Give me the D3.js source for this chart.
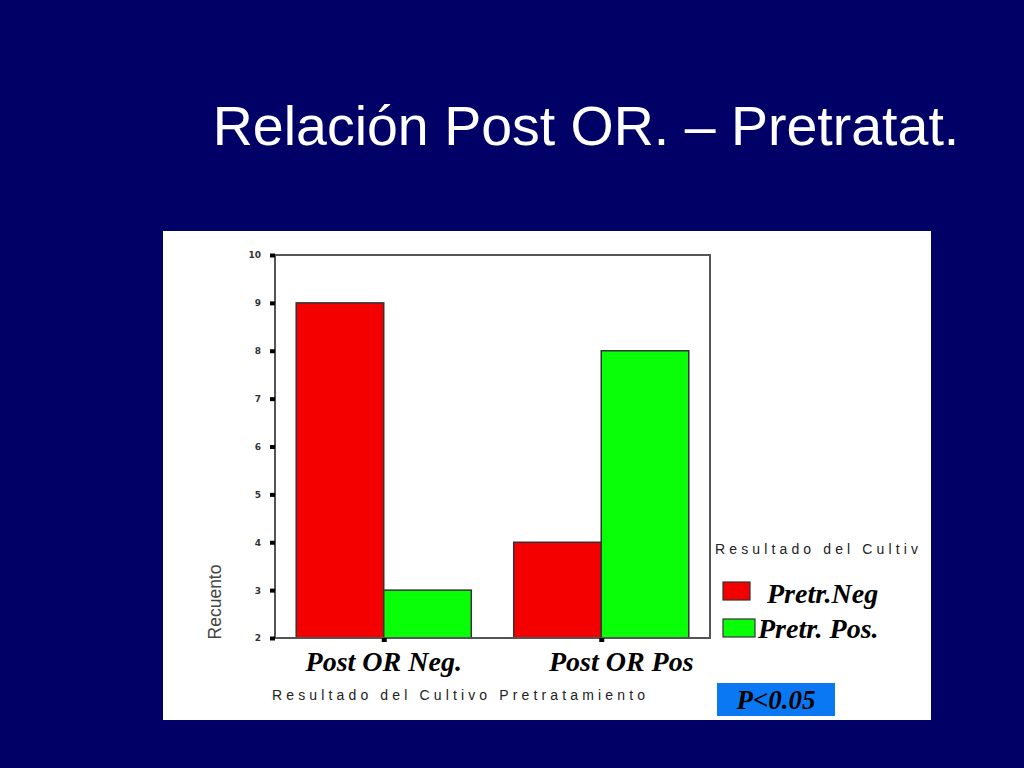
<!DOCTYPE html>
<html><head><meta charset="utf-8">
<script src="https://cdn.jsdelivr.net/npm/d3@7"></script>
<style>html,body{margin:0;padding:0;background:#000066;}svg{display:block;}</style>
</head><body>
<script>
const categories = ["Post OR Neg.", "Post OR Pos"];
const seriesNames = ["Pretr.Neg", "Pretr. Pos."];
const pretrNeg = [9, 4];
const pretrPos = [3, 8];
const yTicks = [2, 3, 4, 5, 6, 7, 8, 9, 10];
const colors = ["#F40000", "#08FF08"];

const W = 1024, H = 768;
const svg = d3.select("body").append("svg").attr("width", W).attr("height", H);
svg.append("rect").attr("width", W).attr("height", H).attr("fill", "#000066");

svg.append("text").attr("x", 586).attr("y", 145).attr("text-anchor", "middle")
  .attr("font-family", "Liberation Sans, Arial, sans-serif").attr("font-size", 55.5)
  .attr("fill", "#ffffff").text("Relación Post OR. – Pretratat.");

svg.append("rect").attr("x", 163).attr("y", 231).attr("width", 768).attr("height", 489).attr("fill", "#ffffff");

const pLeft = 275, pRight = 710, pTop = 255, pBottom = 638;
const x0 = d3.scaleBand().domain(categories).range([pLeft, pRight]).paddingInner(0.195).paddingOuter(0.0975);
const x1 = d3.scaleBand().domain(seriesNames).range([0, x0.bandwidth()]);
const y = d3.scaleLinear().domain([2, 10]).range([pBottom, pTop]);

const data = categories.map((c, i) => ({cat: c, vals: [pretrNeg[i], pretrPos[i]]}));

const g = svg.append("g");
g.selectAll("g.grp").data(data).join("g").attr("class", "grp")
  .attr("transform", d => `translate(${x0(d.cat)},0)`)
  .selectAll("rect").data(d => d.vals.map((v, j) => ({s: seriesNames[j], v, j})))
  .join("rect")
  .attr("x", d => x1(d.s)).attr("width", x1.bandwidth())
  .attr("y", d => y(d.v)).attr("height", d => y(2) - y(d.v))
  .attr("fill", d => colors[d.j]).attr("stroke", "#333").attr("stroke-width", 1.5);

// frame
svg.append("path").attr("d", `M${pLeft},${pBottom}V${pTop}H${pRight}V${pBottom}H${pLeft}`)
  .attr("fill", "none").attr("stroke", "#555").attr("stroke-width", 2);

// y axis ticks
const yAxis = d3.axisLeft(y).tickValues(yTicks).tickSize(0).tickPadding(14).tickFormat(d3.format("d"));
const ya = svg.append("g").attr("transform", `translate(${pLeft},0)`).call(yAxis);
ya.select(".domain").remove();
ya.selectAll("text").attr("font-family", "DejaVu Sans, sans-serif").attr("font-size", 9)
  .attr("font-weight", "bold").attr("fill", "#333");
ya.selectAll(".tick").append("rect").attr("x", -5).attr("y", -2).attr("width", 5).attr("height", 4).attr("fill", "#000");

// x category tick markers
svg.selectAll("rect.xt").data(categories).join("rect").attr("class", "xt")
  .attr("x", d => x0(d) + x0.bandwidth() / 2 - 2).attr("y", pBottom).attr("width", 5).attr("height", 4).attr("fill", "#000");

// category labels
const labelOffsets = [0, 20];
svg.selectAll("text.cat").data(categories).join("text").attr("class", "cat")
  .attr("x", (d, i) => x0(d) + x0.bandwidth() / 2 + labelOffsets[i]).attr("y", 671)
  .attr("text-anchor", "middle").attr("font-family", "Liberation Serif, Times New Roman, serif")
  .attr("font-weight", "bold").attr("font-style", "italic").attr("font-size", 28).attr("fill", "#000")
  .text(d => d);

// x axis title
svg.append("text").attr("x", 272).attr("y", 700).attr("textLength", 373).attr("lengthAdjust", "spacing")
  .attr("font-family", "Liberation Sans, Arial, sans-serif").attr("font-size", 14).attr("fill", "#222")
  .text("Resultado del Cultivo Pretratamiento");

// y axis title
svg.append("text").attr("transform", "translate(221,602) rotate(-90)").attr("text-anchor", "middle")
  .attr("font-family", "Liberation Sans, Arial, sans-serif").attr("font-size", 17.5).attr("fill", "#444")
  .text("Recuento");

// legend
svg.append("text").attr("x", 715).attr("y", 554).attr("textLength", 203).attr("lengthAdjust", "spacing")
  .attr("font-family", "Liberation Sans, Arial, sans-serif").attr("font-size", 14).attr("fill", "#222")
  .text("Resultado del Cultiv");
const legSw = [{x: 723, y: 582, w: 27, h: 18}, {x: 723, y: 619, w: 32, h: 18}];
const legTx = [{x: 767, y: 603}, {x: 758, y: 638}];
seriesNames.forEach((s, i) => {
  svg.append("rect").attr("x", legSw[i].x).attr("y", legSw[i].y).attr("width", legSw[i].w).attr("height", legSw[i].h)
    .attr("fill", colors[i]).attr("stroke", "#333").attr("stroke-width", 1.2);
  svg.append("text").attr("x", legTx[i].x).attr("y", legTx[i].y)
    .attr("font-family", "Liberation Serif, Times New Roman, serif").attr("font-weight", "bold")
    .attr("font-style", "italic").attr("font-size", 28).attr("fill", "#000").text(s);
});

// p-value box
svg.append("rect").attr("x", 717).attr("y", 683).attr("width", 118).attr("height", 33).attr("fill", "#0A78F2");
svg.append("text").attr("x", 776).attr("y", 709).attr("text-anchor", "middle")
  .attr("font-family", "Liberation Serif, Times New Roman, serif").attr("font-weight", "bold")
  .attr("font-style", "italic").attr("font-size", 27).attr("fill", "#000").text("P<0.05");
</script>
</body></html>
